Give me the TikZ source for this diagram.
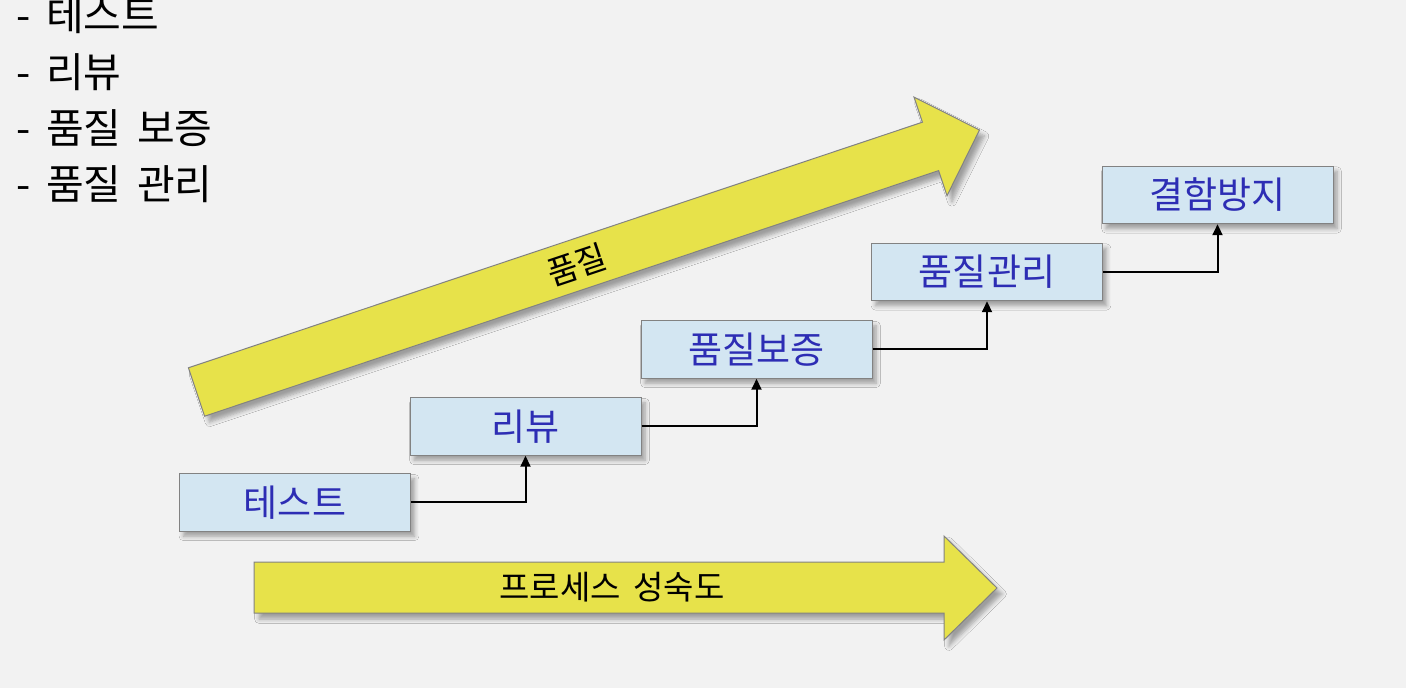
\documentclass[tikz,border=0pt]{standalone}
\usepackage{fontspec}
\setmainfont[WordSpace=1.7]{Noto Sans CJK KR}
\usetikzlibrary{shadows.blur,arrows.meta}
\definecolor{bg}{RGB}{242,242,242}
\definecolor{arrowyellow}{RGB}{231,226,74}
\definecolor{boxblue}{RGB}{211,230,242}
\definecolor{textblue}{RGB}{45,45,180}
\definecolor{edgegray}{RGB}{130,130,130}
\tikzset{
  stepbox/.style={draw=edgegray, line width=0.5pt, fill=boxblue, minimum width=115.5pt, minimum height=28.75pt, inner sep=0pt, text=textblue, font=\fontsize{18.5pt}{21pt}\selectfont, blur shadow={shadow xshift=2pt, shadow yshift=-2.5pt, shadow blur steps=6, shadow opacity=35}},
  bigarrow/.style={draw=edgegray, line width=0.5pt, fill=arrowyellow, blur shadow={shadow xshift=2.5pt, shadow yshift=-3pt, shadow blur steps=6, shadow opacity=35}},
  linkline/.style={draw=black, line width=1pt, -{Triangle[width=5pt,length=5.5pt]}},
  listtext/.style={anchor=base west, inner sep=0pt, font=\fontsize{20.5pt}{24pt}\selectfont},
  arrowtext/.style={inner sep=0pt, font=\fontsize{16.5pt}{19pt}\selectfont}
}
\begin{document}
\begin{tikzpicture}[x=0.5pt,y=-0.5pt]
\fill[bg] (0,0) rectangle (1406,688);
\useasboundingbox (0,0) rectangle (1406,688);
% top-left list
\node[listtext] (l1) at (16,31) {- 테스트};
\node[listtext] (l2) at (16,88) {- 리뷰};
\node[listtext] (l3) at (16,144) {- 품질 보증};
\node[listtext] (l4) at (16,200) {- 품질 관리};
% upper diagonal arrow
\path[bigarrow] (188.4,367.8) -- (922.4,122.2) -- (914,97.1) -- (979.5,130) -- (947,195.7) -- (938.6,170.6) -- (204.6,416.2) -- cycle;
\node[arrowtext, rotate=18.5] (q) at (577,265) {품질};
% lower arrow
\path[bigarrow] (254,562) -- (944,562) -- (944,536) -- (997,588) -- (944,640) -- (944,613) -- (254,613) -- cycle;
\node[arrowtext] (p) at (612,587) {프로세스 성숙도};
% boxes
\node[stepbox] (b1) at (295,502.5) {테스트};
\node[stepbox] (b2) at (525.5,426.5) {리뷰};
\node[stepbox] (b3) at (756.5,349.5) {품질보증};
\node[stepbox] (b4) at (987,272) {품질관리};
\node[stepbox] (b5) at (1217.5,195) {결함방지};
% connectors
\draw[linkline] (b1.east) -| (b2.south);
\draw[linkline] (b2.east) -| (b3.south);
\draw[linkline] (b3.east) -| (b4.south);
\draw[linkline] (b4.east) -| (b5.south);
\end{tikzpicture}
\end{document}
